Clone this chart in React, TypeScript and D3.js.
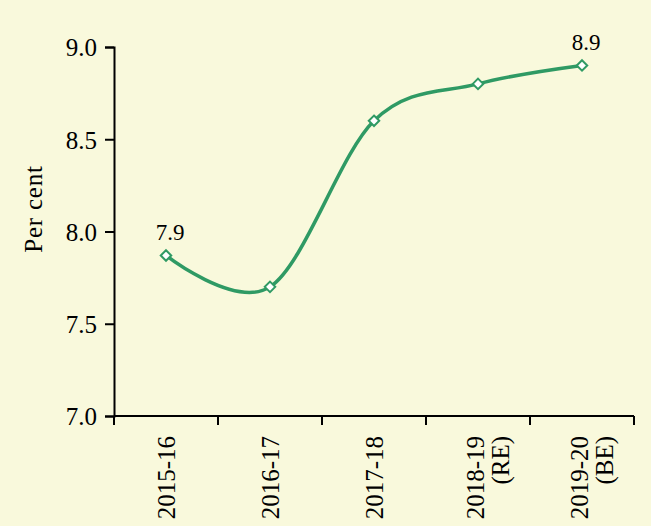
import React, { useEffect, useRef } from 'react';
import * as d3 from 'd3';

// fiscal years on the x axis (second line is the estimate tag)
const years = ['2015-16', '2016-17', '2017-18', '2018-19', '2019-20'];
const yearTags = ['', '', '', '(RE)', '(BE)'];
// per cent values
const values = [7.87, 7.7, 8.6, 8.8, 8.9];
// only the end points carry a label
const pointLabels = ['7.9', '', '', '', '8.9'];
const yTicks = [7.0, 7.5, 8.0, 8.5, 9.0];

const W = 651;
const H = 526;
const GREEN = '#2f9a64';
const FONT = 'Liberation Serif';

const App: React.FC = () => {
  const ref = useRef<SVGSVGElement>(null);

  useEffect(() => {
    const svg = d3.select(ref.current);
    svg.selectAll('*').remove();

    svg.append('rect').attr('width', W).attr('height', H).attr('fill', '#f9f9dc');

    const x = d3.scaleBand<string>().domain(years).range([114, 634]).padding(0);
    const y = d3.scaleLinear().domain([7, 9]).range([416, 47]);

    // y axis
    const yAxis = svg.append('g')
      .attr('transform', 'translate(114,0)')
      .call(d3.axisLeft(y).tickValues(yTicks).tickFormat(d3.format('.1f')).tickSize(9).tickPadding(8));
    yAxis.select('.domain').attr('stroke', '#000').attr('stroke-width', 2);
    yAxis.selectAll('.tick line').attr('stroke', '#000').attr('stroke-width', 2);
    yAxis.selectAll('.tick text')
      .attr('font-family', FONT).attr('font-size', 25).attr('fill', '#000')
      .attr('dy', '0.35em');

    // x axis: ticks at band edges
    const xg = svg.append('g');
    xg.append('line')
      .attr('x1', 114).attr('x2', 634).attr('y1', 416).attr('y2', 416)
      .attr('stroke', '#000').attr('stroke-width', 2);
    const edges = years.map(d => x(d) as number).concat([(x(years[years.length - 1]) as number) + x.bandwidth()]);
    xg.selectAll('line.tk')
      .data(edges)
      .join('line')
      .attr('class', 'tk')
      .attr('x1', d => d).attr('x2', d => d)
      .attr('y1', 416).attr('y2', 425)
      .attr('stroke', '#000').attr('stroke-width', 2);

    // rotated category labels
    years.forEach((yr, i) => {
      const cx = (x(yr) as number) + x.bandwidth() / 2;
      const lines = yearTags[i] ? [yr, yearTags[i]] : [yr];
      const offs = lines.length === 1 ? [0] : [-3, 22];
      lines.forEach((t, j) => {
        xg.append('text')
          .attr('transform', `translate(${cx + offs[j]},436) rotate(-90)`)
          .attr('text-anchor', 'end')
          .attr('dominant-baseline', 'central')
          .attr('font-family', FONT).attr('font-size', 25)
          .text(t);
      });
    });

    // y title
    svg.append('text')
      .attr('transform', 'translate(33,209) rotate(-90)')
      .attr('text-anchor', 'middle')
      .attr('dominant-baseline', 'central')
      .attr('font-family', FONT).attr('font-size', 25)
      .attr('letter-spacing', 0.8)
      .text('Per cent');

    // smoothed line
    const cxOf = (i: number) => (x(years[i]) as number) + x.bandwidth() / 2;
    const line = d3.line<number>()
      .x((d, i) => cxOf(i))
      .y(d => y(d))
      .curve(d3.curveCatmullRom.alpha(0));

    svg.append('path')
      .datum(values)
      .attr('fill', 'none')
      .attr('stroke', GREEN)
      .attr('stroke-width', 3.5)
      .attr('d', line);

    // diamond markers
    svg.selectAll('path.mk')
      .data(values)
      .join('path')
      .attr('class', 'mk')
      .attr('d', d3.symbol().type(d3.symbolDiamond2).size(70)())
      .attr('transform', (d, i) => `translate(${cxOf(i)},${y(d)})`)
      .attr('fill', '#fff')
      .attr('stroke', GREEN)
      .attr('stroke-width', 2);

    // value labels
    svg.selectAll('text.lbl')
      .data(values)
      .join('text')
      .attr('class', 'lbl')
      .attr('x', (d, i) => cxOf(i) + 4)
      .attr('y', d => y(d) - 15)
      .attr('text-anchor', 'middle')
      .attr('font-family', FONT).attr('font-size', 23)
      .text((d, i) => pointLabels[i]);
  }, []);

  return (
    <div style={{ position: 'absolute', left: 0, top: 0 }}>
      <svg ref={ref} width={W} height={H} style={{ display: 'block' }} />
    </div>
  );
};

export default App;
